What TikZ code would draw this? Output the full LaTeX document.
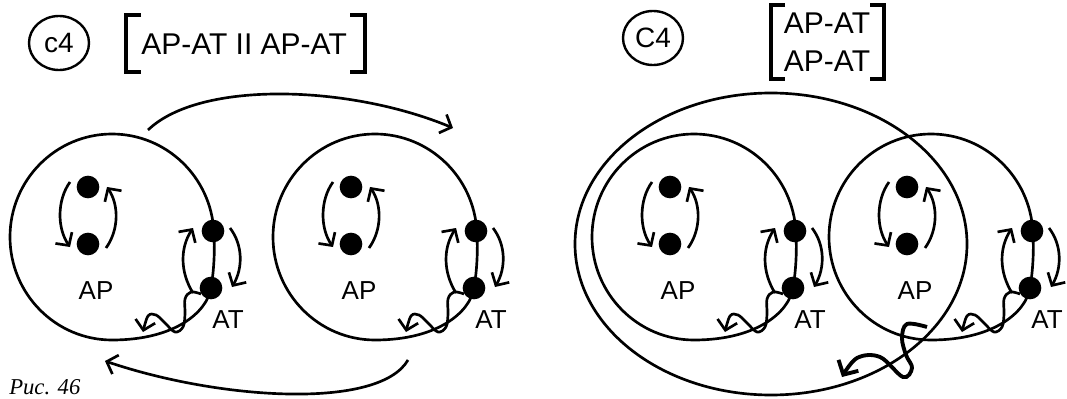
\documentclass[tikz,border=0pt]{standalone}
\usepackage{fontspec}
\setmainfont{Liberation Sans}
\newfontfamily\capfont{Liberation Serif}
\usetikzlibrary{arrows.meta,shapes.geometric}
\tikzset{
  ln/.style={line width=2pt},
  arr/.style={ln, -{Straight Barb[length=7pt,width=15pt]}},
  bigarr/.style={line width=2.9pt, -{Straight Barb[length=8pt,width=17pt]}},
  dotn/.style={circle, fill=black, minimum size=17pt, inner sep=0pt},
  lbl/.style={inner sep=0pt, font=\fontsize{19.5pt}{19.5pt}\selectfont},
  head/.style={inner sep=0pt, font=\fontsize{22.5pt}{22.5pt}\selectfont},
  oval/.style={ellipse, draw, line width=1.8pt, minimum width=45pt, minimum height=40.5pt, inner sep=0pt, font=\fontsize{21pt}{21pt}\selectfont},
  brk/.style={line width=2.4pt}
}
\newcommand\cellfig[2]{%
\begin{scope}[shift={(#2,0)}]
  \draw[ln] (213.9,231.6) .. controls (215,250) and (214,270) .. (211,288)
     .. controls (207,312) and (175,340) .. (112,340)
     arc[start angle=90, end angle=357, x radius=102, y radius=103] -- cycle;
  \node[dotn] (#1d1) at (88,187) {};
  \node[dotn] (#1d2) at (88,244) {};
  \node[dotn] (#1t1) at (213,231) {};
  \node[dotn] (#1t2) at (211,288) {};
  \node[lbl] (#1ap) at (96,291) {AP};
  \node[lbl] (#1at) at (228,320) {AT};
  \draw[arr] ([shift={(-18,-5)}]#1d1.center) .. controls +(-13,18) and +(-13,-19) .. ([shift={(-18,3)}]#1d2.center);
  \draw[arr] ([shift={(18,4)}]#1d2.center) .. controls +(13,-18) and +(12,18) .. ([shift={(19,0)}]#1d1.center);
  \draw[arr] ([shift={(-18,5)}]#1t2.center) .. controls +(-13,-21) and +(-13,20) .. ([shift={(-20,-3)}]#1t1.center);
  \draw[arr] ([shift={(17,-3)}]#1t1.center) .. controls +(13,17) and +(11,-19) .. ([shift={(21,-1)}]#1t2.center);
  \begin{scope}[shift={(#1t2.center)}]
    \draw[arr] plot[smooth, tension=0.6] coordinates {(-10,6) (-20,4) (-26,11) (-26,26) (-28,39) (-36,44) (-46,35) (-55,27) (-63,28) (-68,44)};
  \end{scope}
\end{scope}}
\begin{document}
\begin{tikzpicture}[x=0.75pt,y=-0.75pt]
\useasboundingbox (0,0) rectangle (1067,399);
% left header
\node[oval] (lc4) at (59,43) {c4};
\draw[brk] (141,15) -- (126,15) -- (126,72) -- (141,72);
\draw[brk] (350,15) -- (365,15) -- (365,72) -- (350,72);
\node[head, anchor=west] (lhd) at (141,44) {AP-AT II AP-AT};
% left cells
\cellfig{a}{0}
\cellfig{b}{263}
\draw[arr] ([shift={(60,-57)}]ad1.center) .. controls +(52,-50) and +(-103,-43) .. ([shift={(102,-59)}]bd1.center);
\draw[arr] ([shift={(-66,72)}]bt2.center) .. controls +(-29,50) and +(115,39) .. ([shift={(17,117)}]ad2.center);
% right header
\node[oval] (rc4) at (653,38) {C4};
\draw[brk] (785,5) -- (771,5) -- (771,79) -- (785,79);
\draw[brk] (870,5) -- (884,5) -- (884,79) -- (870,79);
\node[head, align=center] (rhd) at (827,42) {AP-AT\\[6pt]AP-AT};
% right cells
\draw[ln] (771,244) ellipse [x radius=196, y radius=151];
\cellfig{c}{582}
\cellfig{d}{819}
\draw[bigarr] plot[smooth, tension=0.6] coordinates {(927,327) (907,324) (902,338) (906,355) (912,368) (903,377) (880,357) (857,358) (842,377)};
% caption
\node[inner sep=0pt, anchor=base west, font=\capfont\itshape\fontsize{17pt}{17pt}\selectfont] (cap) at (9,394) {Рис. 46};
\end{tikzpicture}
\end{document}
